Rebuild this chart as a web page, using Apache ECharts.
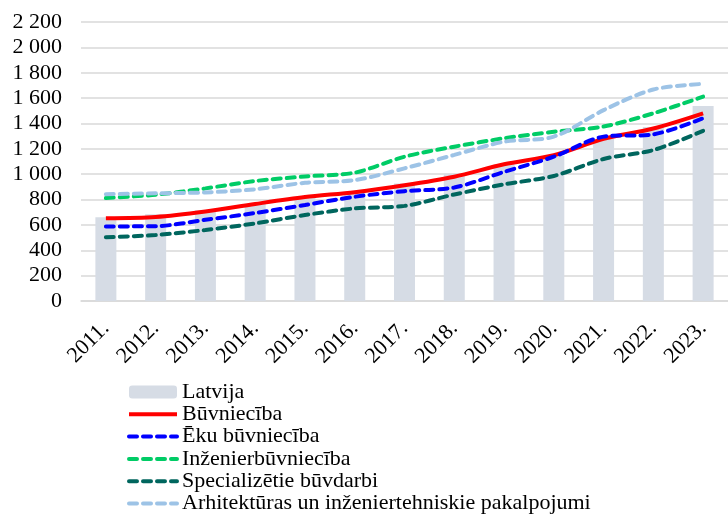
<!DOCTYPE html>
<html>
<head>
<meta charset="utf-8">
<script src="https://cdn.jsdelivr.net/npm/echarts@6/dist/echarts.min.js"></script>
<style>html,body{margin:0;padding:0;background:#fff}#c{width:728px;height:516px}</style>
</head>
<body>
<div id="c"></div>
<script>
var categories = ['2011.','2012.','2013.','2014.','2015.','2016.','2017.','2018.','2019.','2020.','2021.','2022.','2023.'];
var latvija = [660, 685, 716, 765, 818, 859, 926, 1004, 1076, 1143, 1277, 1373, 1537];
var buvnieciba = [652, 662, 705, 765, 820, 858, 912, 980, 1078, 1150, 1278, 1360, 1480];
var ekuBuvnieciba = [588, 590, 640, 694, 757, 822, 866, 895, 1018, 1138, 1296, 1314, 1441];
var inzenierbuvnieciba = [812, 838, 888, 946, 982, 1012, 1138, 1217, 1283, 1335, 1376, 1480, 1612];
var specializetie = [503, 520, 560, 612, 678, 730, 750, 840, 920, 986, 1120, 1190, 1342];
var arhitekturas = [842, 849, 856, 881, 932, 953, 1046, 1152, 1256, 1296, 1505, 1668, 1712];
var yTicks = {min: 0, max: 2200, interval: 200};

function fmt(v){ var s = String(v); return s.length > 3 ? s.slice(0, s.length-3) + ' ' + s.slice(-3) : s; }

var font = '"Liberation Serif", "Times New Roman", serif';
var dash = [8, 6];
function dashed(name, data, color){
  return {name: name, type: 'line', data: data, smooth: 0.3, symbol: 'none', z: 3,
    lineStyle: {color: color, width: 4, type: dash, cap: 'round'}, itemStyle: {color: color}};
}
function legendLine(name, color, type){
  return {name: name, itemStyle: {opacity: 0}, lineStyle: {color: color, width: 4, type: type, cap: type === 'solid' ? 'butt' : 'round'}};
}
var chart = echarts.init(document.getElementById('c'), null, {renderer: 'canvas'});
chart.setOption({
  animation: false,
  textStyle: {fontFamily: font},
  grid: {left: 81, top: 22, width: 650, height: 279, containLabel: false},
  legend: {
    orient: 'vertical', left: 122, top: 376, height: 200, itemWidth: 48, itemHeight: 13, itemGap: 0.3,
    textStyle: {fontFamily: font, fontSize: 22, color: '#000', lineHeight: 22},
    data: [
      {name: 'Latvija'},
      legendLine('Būvniecība', '#ff0000', 'solid'),
      legendLine('Ēku būvniecība', '#0000ff', dash),
      legendLine('Inženierbūvniecība', '#00cc66', dash),
      legendLine('Specializētie būvdarbi', '#00665e', dash),
      legendLine('Arhitektūras un inženiertehniskie pakalpojumi', '#9dc3e6', dash)
    ]
  },
  xAxis: {
    type: 'category', data: categories,
    axisLine: {lineStyle: {color: '#d9d9d9', width: 1.5}},
    axisTick: {show: false},
    axisLabel: {rotate: 45, fontSize: 22, color: '#000', fontFamily: font, margin: 24, interval: 0}
  },
  yAxis: {
    type: 'value', min: yTicks.min, max: yTicks.max, interval: yTicks.interval,
    axisLine: {show: false}, axisTick: {show: false},
    splitLine: {lineStyle: {color: '#d9d9d9', width: 1.5}},
    axisLabel: {fontSize: 22, color: '#000', fontFamily: font, margin: 19, formatter: fmt}
  },
  series: [
    {name: 'Latvija', type: 'bar', data: latvija, barWidth: 21, itemStyle: {color: '#d6dce5'}, z: 1},
    {name: 'Būvniecība', type: 'line', data: buvnieciba, smooth: 0.3, symbol: 'none', z: 3,
      lineStyle: {color: '#ff0000', width: 4}, itemStyle: {color: '#ff0000'}},
    dashed('Ēku būvniecība', ekuBuvnieciba, '#0000ff'),
    dashed('Inženierbūvniecība', inzenierbuvnieciba, '#00cc66'),
    dashed('Specializētie būvdarbi', specializetie, '#00665e'),
    dashed('Arhitektūras un inženiertehniskie pakalpojumi', arhitekturas, '#9dc3e6')
  ]
});
</script>
</body>
</html>
